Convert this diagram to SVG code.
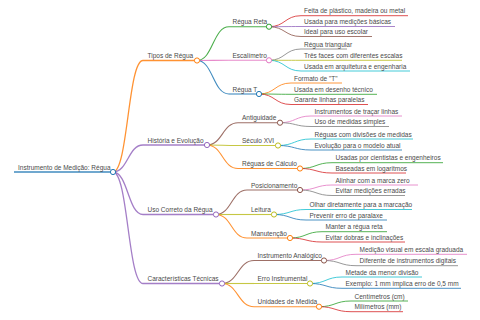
<svg xmlns="http://www.w3.org/2000/svg" width="480" height="320" viewBox="0 0 480 320">
<style>
text{font-family:"Liberation Sans",Arial,sans-serif;font-size:6.5px;fill:#4a4a4a}
path,line{fill:none;stroke-opacity:0.85}
circle{fill:#fff;stroke-width:1}
.d0{stroke-width:1.7}.d1{stroke-width:1.3}.d2{stroke-width:1.1}.d3{stroke-width:0.95}
.c0{stroke:#1f77b4}.c1{stroke:#ff7f0e}.c2{stroke:#2ca02c}.c3{stroke:#d62728}.c4{stroke:#9467bd}
.c5{stroke:#8c564b}.c6{stroke:#e377c2}.c7{stroke:#7f7f7f}.c8{stroke:#bcbd22}.c9{stroke:#17becf}
</style>
<rect width="480" height="320" fill="#fff"/>
<g id="connectors">
<path class="d1 c1" d="M113,172 C128,172 128,60.5 143,60.5"/>
<path class="d1 c4" d="M113,172 C128,172 128,145 143,145"/>
<path class="d1 c4" d="M113,172 C128,172 128,214.5 143,214.5"/>
<path class="d1 c4" d="M113,172 C128,172 128,283.5 143,283.5"/>
<path class="d2 c2" d="M197,60.5 C213,60.5 213,26.7 229,26.7"/>
<path class="d2 c6" d="M197,60.5 C213,60.5 213,60.3 229,60.3"/>
<path class="d2 c0" d="M197,60.5 C213,60.5 213,94 229,94"/>
<path class="d2 c5" d="M207,145 C222.5,145 222.5,122.7 238,122.7"/>
<path class="d2 c8" d="M207,145 C222.5,145 222.5,145.5 238,145.5"/>
<path class="d2 c1" d="M207,145 C222.5,145 222.5,168.5 238,168.5"/>
<path class="d2 c5" d="M216,214.5 C231.5,214.5 231.5,190 247,190"/>
<path class="d2 c8" d="M216,214.5 C231.5,214.5 231.5,214.5 247,214.5"/>
<path class="d2 c1" d="M216,214.5 C231.5,214.5 231.5,238 247,238"/>
<path class="d2 c5" d="M222,283.5 C238,283.5 238,260.5 254,260.5"/>
<path class="d2 c8" d="M222,283.5 C238,283.5 238,283.5 254,283.5"/>
<path class="d2 c1" d="M222,283.5 C238,283.5 238,306.7 254,306.7"/>
<path class="d3 c3" d="M269,26.7 C285,26.7 285,15.7 301,15.7"/>
<path class="d3 c4" d="M269,26.7 C285,26.7 285,26.5 301,26.5"/>
<path class="d3 c5" d="M269,26.7 C285,26.7 285,36.5 301,36.5"/>
<path class="d3 c7" d="M269,60.3 C285,60.3 285,49 301,49"/>
<path class="d3 c8" d="M269,60.3 C285,60.3 285,60.3 301,60.3"/>
<path class="d3 c9" d="M269,60.3 C285,60.3 285,71 301,71"/>
<path class="d3 c1" d="M259,94 C275,94 275,83 291,83"/>
<path class="d3 c2" d="M259,94 C275,94 275,94.3 291,94.3"/>
<path class="d3 c3" d="M259,94 C275,94 275,104.5 291,104.5"/>
<path class="d3 c6" d="M280,122.7 C295.5,122.7 295.5,116 311,116"/>
<path class="d3 c7" d="M280,122.7 C295.5,122.7 295.5,126.5 311,126.5"/>
<path class="d3 c9" d="M278,145.5 C294.5,145.5 294.5,139 311,139"/>
<path class="d3 c0" d="M278,145.5 C294.5,145.5 294.5,150 311,150"/>
<path class="d3 c2" d="M300,168.5 C316,168.5 316,162.7 332,162.7"/>
<path class="d3 c3" d="M300,168.5 C316,168.5 316,173 332,173"/>
<path class="d3 c6" d="M300,190 C316,190 316,185 332,185"/>
<path class="d3 c7" d="M300,190 C316,190 316,195.5 332,195.5"/>
<path class="d3 c9" d="M274,214.5 C290,214.5 290,209.5 306,209.5"/>
<path class="d3 c0" d="M274,214.5 C290,214.5 290,220 306,220"/>
<path class="d3 c2" d="M290,238 C306,238 306,231.7 322,231.7"/>
<path class="d3 c3" d="M290,238 C306,238 306,242 322,242"/>
<path class="d3 c6" d="M324,260.5 C340,260.5 340,254.3 356,254.3"/>
<path class="d3 c7" d="M324,260.5 C340,260.5 340,265.7 356,265.7"/>
<path class="d3 c9" d="M310,283.5 C326,283.5 326,277 342,277"/>
<path class="d3 c0" d="M310,283.5 C326,283.5 326,288.3 342,288.3"/>
<path class="d3 c2" d="M319,306.7 C335,306.7 335,301 351,301"/>
<path class="d3 c3" d="M319,306.7 C335,306.7 335,311.7 351,311.7"/>
</g>
<g id="root"><line class="d0 c0" x1="14" y1="172" x2="113" y2="172"/><circle class="c0" cx="113" cy="172" r="2.6"/><text x="18" y="169.5">Instrumento de Medição: Régua</text></g>
<g id="tipos"><line class="d1 c1" x1="143" y1="60.5" x2="197" y2="60.5"/><circle class="c1" cx="197" cy="60.5" r="2.6"/><text x="147.5" y="58">Tipos de Régua</text></g>
<g id="historia"><line class="d1 c4" x1="143" y1="145" x2="207" y2="145"/><circle class="c4" cx="207" cy="145" r="2.6"/><text x="147.5" y="142.5">História e Evolução</text></g>
<g id="uso"><line class="d1 c4" x1="143" y1="214.5" x2="216" y2="214.5"/><circle class="c4" cx="216" cy="214.5" r="2.6"/><text x="147.5" y="212">Uso Correto da Régua</text></g>
<g id="caracteristicas"><line class="d1 c4" x1="143" y1="283.5" x2="222" y2="283.5"/><circle class="c4" cx="222" cy="283.5" r="2.6"/><text x="147.5" y="281">Características Técnicas</text></g>
<g id="regua-reta"><line class="d2 c2" x1="229" y1="26.7" x2="269" y2="26.7"/><circle class="c2" cx="269" cy="26.7" r="2.6"/><text x="232.5" y="24.2">Régua Reta</text></g>
<g id="escalimetro"><line class="d2 c6" x1="229" y1="60.3" x2="269" y2="60.3"/><circle class="c6" cx="269" cy="60.3" r="2.6"/><text x="232.5" y="57.8">Escalímetro</text></g>
<g id="regua-t"><line class="d2 c0" x1="229" y1="94" x2="259" y2="94"/><circle class="c0" cx="259" cy="94" r="2.6"/><text x="232.5" y="91.5">Régua T</text></g>
<g id="antiguidade"><line class="d2 c5" x1="238" y1="122.7" x2="280" y2="122.7"/><circle class="c5" cx="280" cy="122.7" r="2.6"/><text x="242" y="120.2">Antiguidade</text></g>
<g id="seculo"><line class="d2 c8" x1="238" y1="145.5" x2="278" y2="145.5"/><circle class="c8" cx="278" cy="145.5" r="2.6"/><text x="242" y="143">Século XVI</text></g>
<g id="calculo"><line class="d2 c1" x1="238" y1="168.5" x2="300" y2="168.5"/><circle class="c1" cx="300" cy="168.5" r="2.6"/><text x="242" y="166">Réguas de Cálculo</text></g>
<g id="posicionamento"><line class="d2 c5" x1="247" y1="190" x2="300" y2="190"/><circle class="c5" cx="300" cy="190" r="2.6"/><text x="251" y="187.5">Posicionamento</text></g>
<g id="leitura"><line class="d2 c8" x1="247" y1="214.5" x2="274" y2="214.5"/><circle class="c8" cx="274" cy="214.5" r="2.6"/><text x="251" y="212">Leitura</text></g>
<g id="manutencao"><line class="d2 c1" x1="247" y1="238" x2="290" y2="238"/><circle class="c1" cx="290" cy="238" r="2.6"/><text x="251" y="235.5">Manutenção</text></g>
<g id="analogico"><line class="d2 c5" x1="254" y1="260.5" x2="324" y2="260.5"/><circle class="c5" cx="324" cy="260.5" r="2.6"/><text x="257.5" y="258">Instrumento Analógico</text></g>
<g id="erro"><line class="d2 c8" x1="254" y1="283.5" x2="310" y2="283.5"/><circle class="c8" cx="310" cy="283.5" r="2.6"/><text x="257.5" y="281">Erro Instrumental</text></g>
<g id="unidades"><line class="d2 c1" x1="254" y1="306.7" x2="319" y2="306.7"/><circle class="c1" cx="319" cy="306.7" r="2.6"/><text x="257.5" y="304.2">Unidades de Medida</text></g>
<g id="l-feita"><line class="d3 c3" x1="301" y1="15.7" x2="408" y2="15.7"/><text x="304" y="13.2">Feita de plástico, madeira ou metal</text></g>
<g id="l-usada-basicas"><line class="d3 c4" x1="301" y1="26.5" x2="395" y2="26.5"/><text x="304" y="24">Usada para medições básicas</text></g>
<g id="l-ideal"><line class="d3 c5" x1="301" y1="36.5" x2="372" y2="36.5"/><text x="304" y="34">Ideal para uso escolar</text></g>
<g id="l-triangular"><line class="d3 c7" x1="301" y1="49" x2="347" y2="49"/><text x="304" y="46.5">Régua triangular</text></g>
<g id="l-tres"><line class="d3 c8" x1="301" y1="60.3" x2="402" y2="60.3"/><text x="304" y="57.8">Três faces com diferentes escalas</text></g>
<g id="l-arquitetura"><line class="d3 c9" x1="301" y1="71" x2="410" y2="71"/><text x="304" y="68.5">Usada em arquitetura e engenharia</text></g>
<g id="l-formato"><line class="d3 c1" x1="291" y1="83" x2="342" y2="83"/><text x="294" y="80.5">Formato de "T"</text></g>
<g id="l-desenho"><line class="d3 c2" x1="291" y1="94.3" x2="377" y2="94.3"/><text x="294" y="91.8">Usada em desenho técnico</text></g>
<g id="l-paralelas"><line class="d3 c3" x1="291" y1="104.5" x2="368" y2="104.5"/><text x="294" y="102">Garante linhas paralelas</text></g>
<g id="l-tracar"><line class="d3 c6" x1="311" y1="116" x2="402" y2="116"/><text x="314.5" y="113.5">Instrumentos de traçar linhas</text></g>
<g id="l-simples"><line class="d3 c7" x1="311" y1="126.5" x2="389" y2="126.5"/><text x="314.5" y="124">Uso de medidas simples</text></g>
<g id="l-divisoes"><line class="d3 c9" x1="311" y1="139" x2="413" y2="139"/><text x="314.5" y="136.5">Réguas com divisões de medidas</text></g>
<g id="l-evolucao"><line class="d3 c0" x1="311" y1="150" x2="402" y2="150"/><text x="314.5" y="147.5">Evolução para o modelo atual</text></g>
<g id="l-cientistas"><line class="d3 c2" x1="332" y1="162.7" x2="443" y2="162.7"/><text x="335.5" y="160.2">Usadas por cientistas e engenheiros</text></g>
<g id="l-logaritmos"><line class="d3 c3" x1="332" y1="173" x2="406" y2="173"/><text x="335.5" y="170.5">Baseadas em logaritmos</text></g>
<g id="l-zero"><line class="d3 c6" x1="332" y1="185" x2="418" y2="185"/><text x="335.5" y="182.5">Alinhar com a marca zero</text></g>
<g id="l-erradas"><line class="d3 c7" x1="332" y1="195.5" x2="405" y2="195.5"/><text x="335.5" y="193">Evitar medições erradas</text></g>
<g id="l-olhar"><line class="d3 c9" x1="306" y1="209.5" x2="412" y2="209.5"/><text x="309.5" y="207">Olhar diretamente para a marcação</text></g>
<g id="l-paralaxe"><line class="d3 c0" x1="306" y1="220" x2="387" y2="220"/><text x="309.5" y="217.5">Prevenir erro de paralaxe</text></g>
<g id="l-manter"><line class="d3 c2" x1="322" y1="231.7" x2="387" y2="231.7"/><text x="325.5" y="229.2">Manter a régua reta</text></g>
<g id="l-dobras"><line class="d3 c3" x1="322" y1="242" x2="405" y2="242"/><text x="325.5" y="239.5">Evitar dobras e inclinações</text></g>
<g id="l-visual"><line class="d3 c6" x1="356" y1="254.3" x2="467" y2="254.3"/><text x="359.5" y="251.8">Medição visual em escala graduada</text></g>
<g id="l-digitais"><line class="d3 c7" x1="356" y1="265.7" x2="458" y2="265.7"/><text x="359.5" y="263.2">Diferente de instrumentos digitais</text></g>
<g id="l-metade"><line class="d3 c9" x1="342" y1="277" x2="422" y2="277"/><text x="345.5" y="274.5">Metade da menor divisão</text></g>
<g id="l-exemplo"><line class="d3 c0" x1="342" y1="288.3" x2="461" y2="288.3"/><text x="345.5" y="285.8">Exemplo: 1 mm implica erro de 0,5 mm</text></g>
<g id="l-cm"><line class="d3 c2" x1="351" y1="301" x2="408" y2="301"/><text x="354.5" y="298.5">Centímetros (cm)</text></g>
<g id="l-mm"><line class="d3 c3" x1="351" y1="311.7" x2="403" y2="311.7"/><text x="354.5" y="309.2">Milímetros (mm)</text></g>
</svg>
